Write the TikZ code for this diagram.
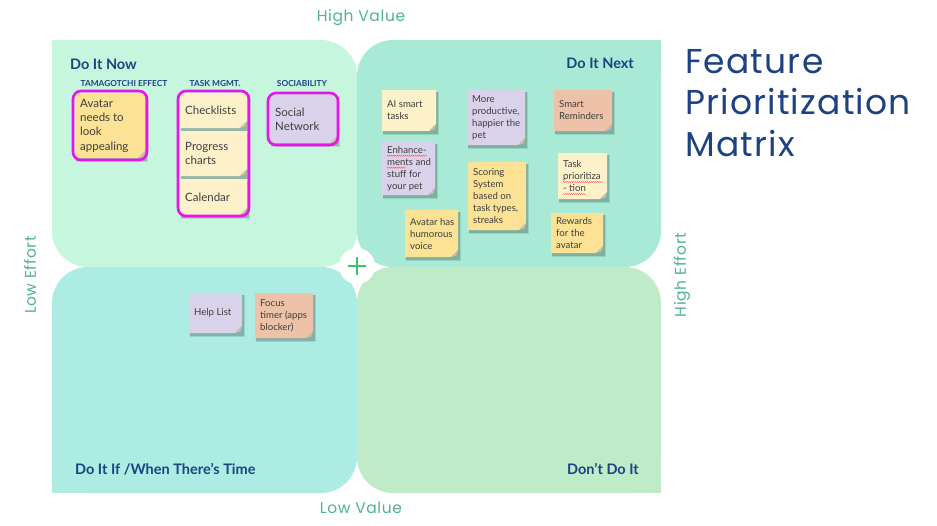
\documentclass[tikz,border=0pt]{standalone}
\usepackage{fontspec}
\setmainfont{Lato}
\newfontfamily\titlefont{Poppins}
\newfontfamily\titlefontsp[LetterSpace=3.5]{Poppins}
\newfontfamily\axisfont[LetterSpace=4]{Poppins}
\usetikzlibrary{decorations.pathmorphing}
\definecolor{qTL}{RGB}{198,246,222}
\definecolor{qTR}{RGB}{168,234,214}
\definecolor{qBL}{RGB}{172,236,226}
\definecolor{qBR}{RGB}{191,235,200}
\definecolor{navy}{RGB}{28,66,130}
\definecolor{axisgreen}{RGB}{80,180,140}
\definecolor{nyellow}{RGB}{252,226,148}
\definecolor{ncream}{RGB}{253,241,202}
\definecolor{nlav}{RGB}{218,210,234}
\definecolor{nsalmon}{RGB}{238,194,168}
\definecolor{magentab}{RGB}{232,20,232}
\definecolor{plusgreen}{RGB}{60,195,110}
\definecolor{notetext}{RGB}{62,62,62}
\definecolor{foldc}{RGB}{200,190,165}
\newcommand\sticky[8]{%
  \fill[black,opacity=0.10] (#2+0.5,#3+1.5) rectangle (#4+2.5,#5+3.5);
  \fill[black,opacity=0.16] (#2+1,#3+2) rectangle (#4+1.5,#5+2.5);
  \fill[#6] (#2,#3) -- (#4,#3) -- (#4,#5-7) -- (#4-7,#5) -- (#2,#5) -- cycle;
  \fill[foldc] (#4,#5-7) -- (#4-7,#5) -- (#4-1.5,#5-1.5) -- cycle;
  \node[notetxt,#7,anchor=west] (#1) at (#2+5,{(#3+#5)/2}) {#8};
}
\begin{document}
\begin{tikzpicture}[x=1pt,y=-1pt,
  notetxt/.style={inner sep=0pt,align=left,text=notetext},
  bigtxt/.style={font=\fontsize{11.5}{14.3}\selectfont},
  smalltxt/.style={font=\fontsize{9.6}{12}\selectfont},
  quadtitle/.style={inner sep=0pt,text=navy,font=\fontsize{14.5}{17}\selectfont\bfseries},
  cattxt/.style={inner sep=0pt,text=navy,font=\fontsize{8.3}{9}\selectfont\bfseries},
  axistxt/.style={inner sep=0pt,text=axisgreen,font=\axisfont\fontsize{15.5}{17}\selectfont},
  magborder/.style={draw=magentab,line width=2.6pt,rounded corners=8pt},
  squiggle/.style={draw=red!70,line width=0.4pt,decorate,decoration={snake,amplitude=0.5pt,segment length=2pt}}
]
\useasboundingbox (0,0) rectangle (937,525);
\fill[white] (0,0) rectangle (937,525);
% quadrants
\fill[qTL, rounded corners=36pt] (52,40) rectangle (357,267);
\fill[qTL] (52,40) rectangle (100,90);
\fill[qTR, rounded corners=36pt] (357,40) rectangle (661,267);
\fill[qTR] (613,40) rectangle (661,90);
\fill[qBL, rounded corners=36pt] (52,267) rectangle (357,493);
\fill[qBL] (52,445) rectangle (100,493);
\fill[qBR, rounded corners=36pt] (357,267) rectangle (661,493);
\fill[qBR] (613,445) rectangle (661,493);
% centre
\node[circle,fill=white,minimum size=36pt,inner sep=0pt] (centre) at (357,266) {};
\draw[plusgreen,line width=2.6pt] (centre.center) ++(-9,0) -- ++(18,0);
\draw[plusgreen,line width=2.6pt] (centre.center) ++(0,-9) -- ++(0,18);
% quadrant titles
\node[quadtitle,anchor=base west] (tNow) at (70,69) {Do It Now};
\node[quadtitle,anchor=base east] (tNext) at (634,68) {Do It Next};
\node[quadtitle,anchor=base west] (tIf) at (75,474) {Do It If /When There’s Time};
\node[quadtitle,anchor=base east] (tDont) at (639,474) {Don’t Do It};
% categories
\node[cattxt,anchor=base] (cTam) at (124,86) {TAMAGOTCHI EFFECT};
\node[cattxt,anchor=base] (cTask) at (215,86) {TASK MGMT.};
\node[cattxt,anchor=base] (cSoc) at (302,86) {SOCIABILITY};
% TL notes
\sticky{nAvatar}{75}{93}{145}{158}{nyellow}{bigtxt}{Avatar\\needs to\\look\\appealing}
\sticky{nCheck}{180}{93}{247}{128}{ncream}{bigtxt}{Checklists}
\sticky{nProg}{180}{131}{247}{176}{ncream}{bigtxt}{Progress\\charts}
\sticky{nCal}{180}{179}{247}{215}{ncream}{bigtxt}{Calendar}
\sticky{nSocial}{270}{95}{337}{143}{nlav}{bigtxt}{Social\\Network}
\draw[magborder] (73,91) rectangle (147,160);
\draw[magborder] (178,91) rectangle (249,216);
\draw[magborder] (268,93) rectangle (338,145);
% TR notes
\sticky{nAI}{382}{90}{436}{131}{ncream}{smalltxt}{AI smart\\tasks}
\sticky{nMore}{467}{90}{525}{145}{nlav}{smalltxt}{More\\productive,\\happier the\\pet}
\sticky{nSmart}{554}{90}{612}{131}{nsalmon}{smalltxt}{Smart\\Reminders}
\sticky{nEnh}{382}{142}{435}{195}{nlav}{smalltxt}{Enhance-\\ments and\\stuff for\\your pet}
\sticky{nScore}{468}{162}{526}{230}{nyellow}{smalltxt}{Scoring\\System\\based on\\task types,\\streaks}
\sticky{nTaskP}{558}{153}{607}{199}{ncream}{smalltxt}{Task\\prioritiza\\- tion}
\sticky{nHum}{405}{210}{458}{257}{nyellow}{smalltxt}{Avatar has\\humorous\\voice}
\sticky{nRew}{551}{213}{603}{253}{nyellow}{smalltxt}{Rewards\\for the\\avatar}
\draw[squiggle] (nEnh.north west) ++(0,9.8) -- ++(40,0);
\draw[squiggle] (nEnh.north west) ++(0,21.8) -- ++(19,0);
\draw[squiggle] (nTaskP.north west) ++(0,21.8) -- ++(40,0);
\draw[squiggle] (nTaskP.north west) ++(0,33.8) -- ++(23,0);
% BL notes
\sticky{nHelp}{189}{293}{242}{333}{nlav}{smalltxt}{Help List}
\sticky{nFocus}{255}{293}{313}{338}{nsalmon}{smalltxt}{Focus\\timer (apps\\blocker)}
% title
\node[inner sep=0pt,anchor=north west,align=left,text=navy,font=\titlefontsp\fontsize{34.5}{41.5}\selectfont] (title) at (685,49) {Feature\\Prioritization\\Matrix};
% axis labels
\node[axistxt,anchor=center] (hv) at (361,18) {High Value};
\node[axistxt,anchor=center] (lv) at (361,508) {Low Value};
\node[axistxt,anchor=center,rotate=90] (le) at (30,275) {Low Effort};
\node[axistxt,anchor=center,rotate=90] (he) at (682,275) {High Effort};
\end{tikzpicture}
\end{document}
